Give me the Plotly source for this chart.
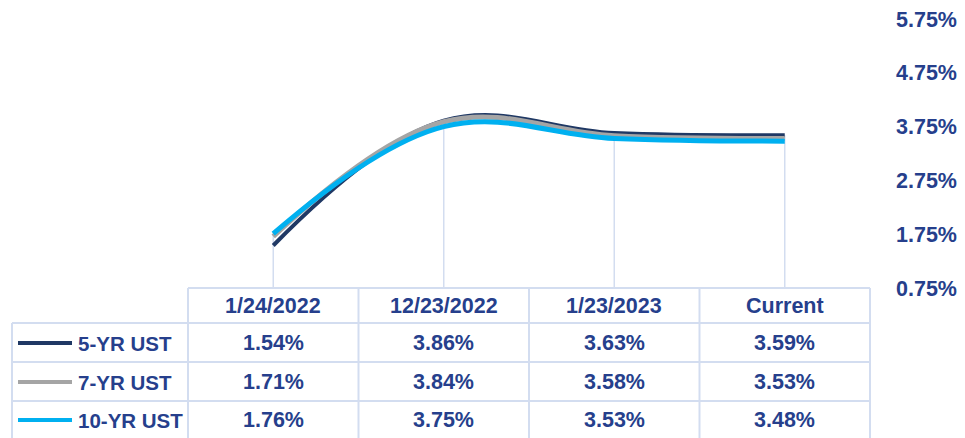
import plotly.graph_objects as go

categories = ["1/24/2022", "12/23/2022", "1/23/2023", "Current"]
series_names = ["5-YR UST", "7-YR UST", "10-YR UST"]
yr5 = [1.54, 3.86, 3.63, 3.59]
yr7 = [1.71, 3.84, 3.58, 3.53]
yr10 = [1.76, 3.75, 3.53, 3.48]
tick_vals = [0.75, 1.75, 2.75, 3.75, 4.75, 5.75]

series = [yr5, yr7, yr10]
colors = ["#1f3864", "#a5a5a5", "#00b0f0"]
widths = [4, 5, 5]

TXT = "#263f8c"
GRID = "#d3ddf0"
FONT = "Liberation Sans, Arial, sans-serif"
FS = 21.5
FS_LAB = 20.5

# page has an 8px body margin; figure coordinates are offset accordingly
W, H = 957, 430
L, R, T, B = 180, 95, 11, 150
PW = W - L - R

fig = go.Figure()

# drop lines from the axis floor up to the highest value in each category
for i, c in enumerate(categories):
    top = max(s[i] for s in series)
    fig.add_shape(type="line", xref="x", yref="y", x0=c, x1=c, y0=tick_vals[0], y1=top,
                  line=dict(color=GRID, width=1.5), layer="below")

for name, vals, col, w in zip(series_names, series, colors, widths):
    fig.add_trace(go.Scatter(x=categories, y=vals, name=name, mode="lines",
                             line=dict(color=col, width=w, shape="spline", smoothing=1.1),
                             showlegend=False))

# ---- data table under the chart ----
n = len(categories)
col_x = [i / n for i in range(n + 1)]
label_left = (4 - L) / PW
row_lines = [0, -35, -74, -113]
bottom = -160

fig.add_shape(type="line", xref="paper", yref="paper", ysizemode="pixel", yanchor=0,
              x0=0, x1=1, y0=0, y1=0, line=dict(color=GRID, width=2))
for r in row_lines[1:]:
    fig.add_shape(type="line", xref="paper", yref="paper", ysizemode="pixel", yanchor=0,
                  x0=label_left, x1=1, y0=r, y1=r, line=dict(color=GRID, width=2))
for xv in col_x:
    fig.add_shape(type="line", xref="paper", yref="paper", ysizemode="pixel", yanchor=0,
                  x0=xv, x1=xv, y0=0, y1=bottom, line=dict(color=GRID, width=2))
fig.add_shape(type="line", xref="paper", yref="paper", ysizemode="pixel", yanchor=0,
              x0=label_left, x1=label_left, y0=row_lines[1], y1=bottom,
              line=dict(color=GRID, width=2))

header_shift = -18
row_shifts = [-55, -94, -132]

for c in categories:
    fig.add_annotation(x=c, xref="x", y=0, yref="paper", yshift=header_shift,
                       text=c, showarrow=False, yanchor="middle",
                       font=dict(family=FONT, size=FS, color=TXT, weight="bold"))

legend_x0 = (10 - L) / PW
legend_x1 = (64 - L) / PW
legend_tx = (68 - L) / PW
for name, vals, col, sh in zip(series_names, series, colors, row_shifts):
    fig.add_shape(type="line", xref="paper", yref="paper", ysizemode="pixel", yanchor=0,
                  x0=legend_x0, x1=legend_x1, y0=sh, y1=sh,
                  line=dict(color=col, width=4))
    fig.add_annotation(x=legend_tx, xref="paper", y=0, yref="paper", yshift=sh,
                       text=name, showarrow=False, xanchor="left", yanchor="middle",
                       font=dict(family=FONT, size=FS_LAB, color=TXT, weight="bold"))
    for c, v in zip(categories, vals):
        fig.add_annotation(x=c, xref="x", y=0, yref="paper", yshift=sh,
                           text=f"{v:.2f}%", showarrow=False, yanchor="middle",
                           font=dict(family=FONT, size=FS, color=TXT, weight="bold"))

fig.update_layout(
    width=W, height=H,
    margin=dict(l=L, r=R, t=T, b=B, autoexpand=False),
    paper_bgcolor="white", plot_bgcolor="white",
    xaxis=dict(type="category", range=[-0.5, n - 0.5], showticklabels=False,
               showgrid=False, zeroline=False, showline=False, ticks="", automargin=False),
    yaxis=dict(side="right", range=[tick_vals[0], tick_vals[-1]], tickvals=tick_vals,
               ticktext=[f"{t:.2f}%" for t in tick_vals], showgrid=False, zeroline=False,
               showline=False, ticks="", ticklabelstandoff=25, ticklabeloverflow="allow",
               automargin=False,
               tickfont=dict(family=FONT, size=FS, color=TXT, weight="bold")),
    font=dict(family=FONT),
)

fig.write_html("out.html")
